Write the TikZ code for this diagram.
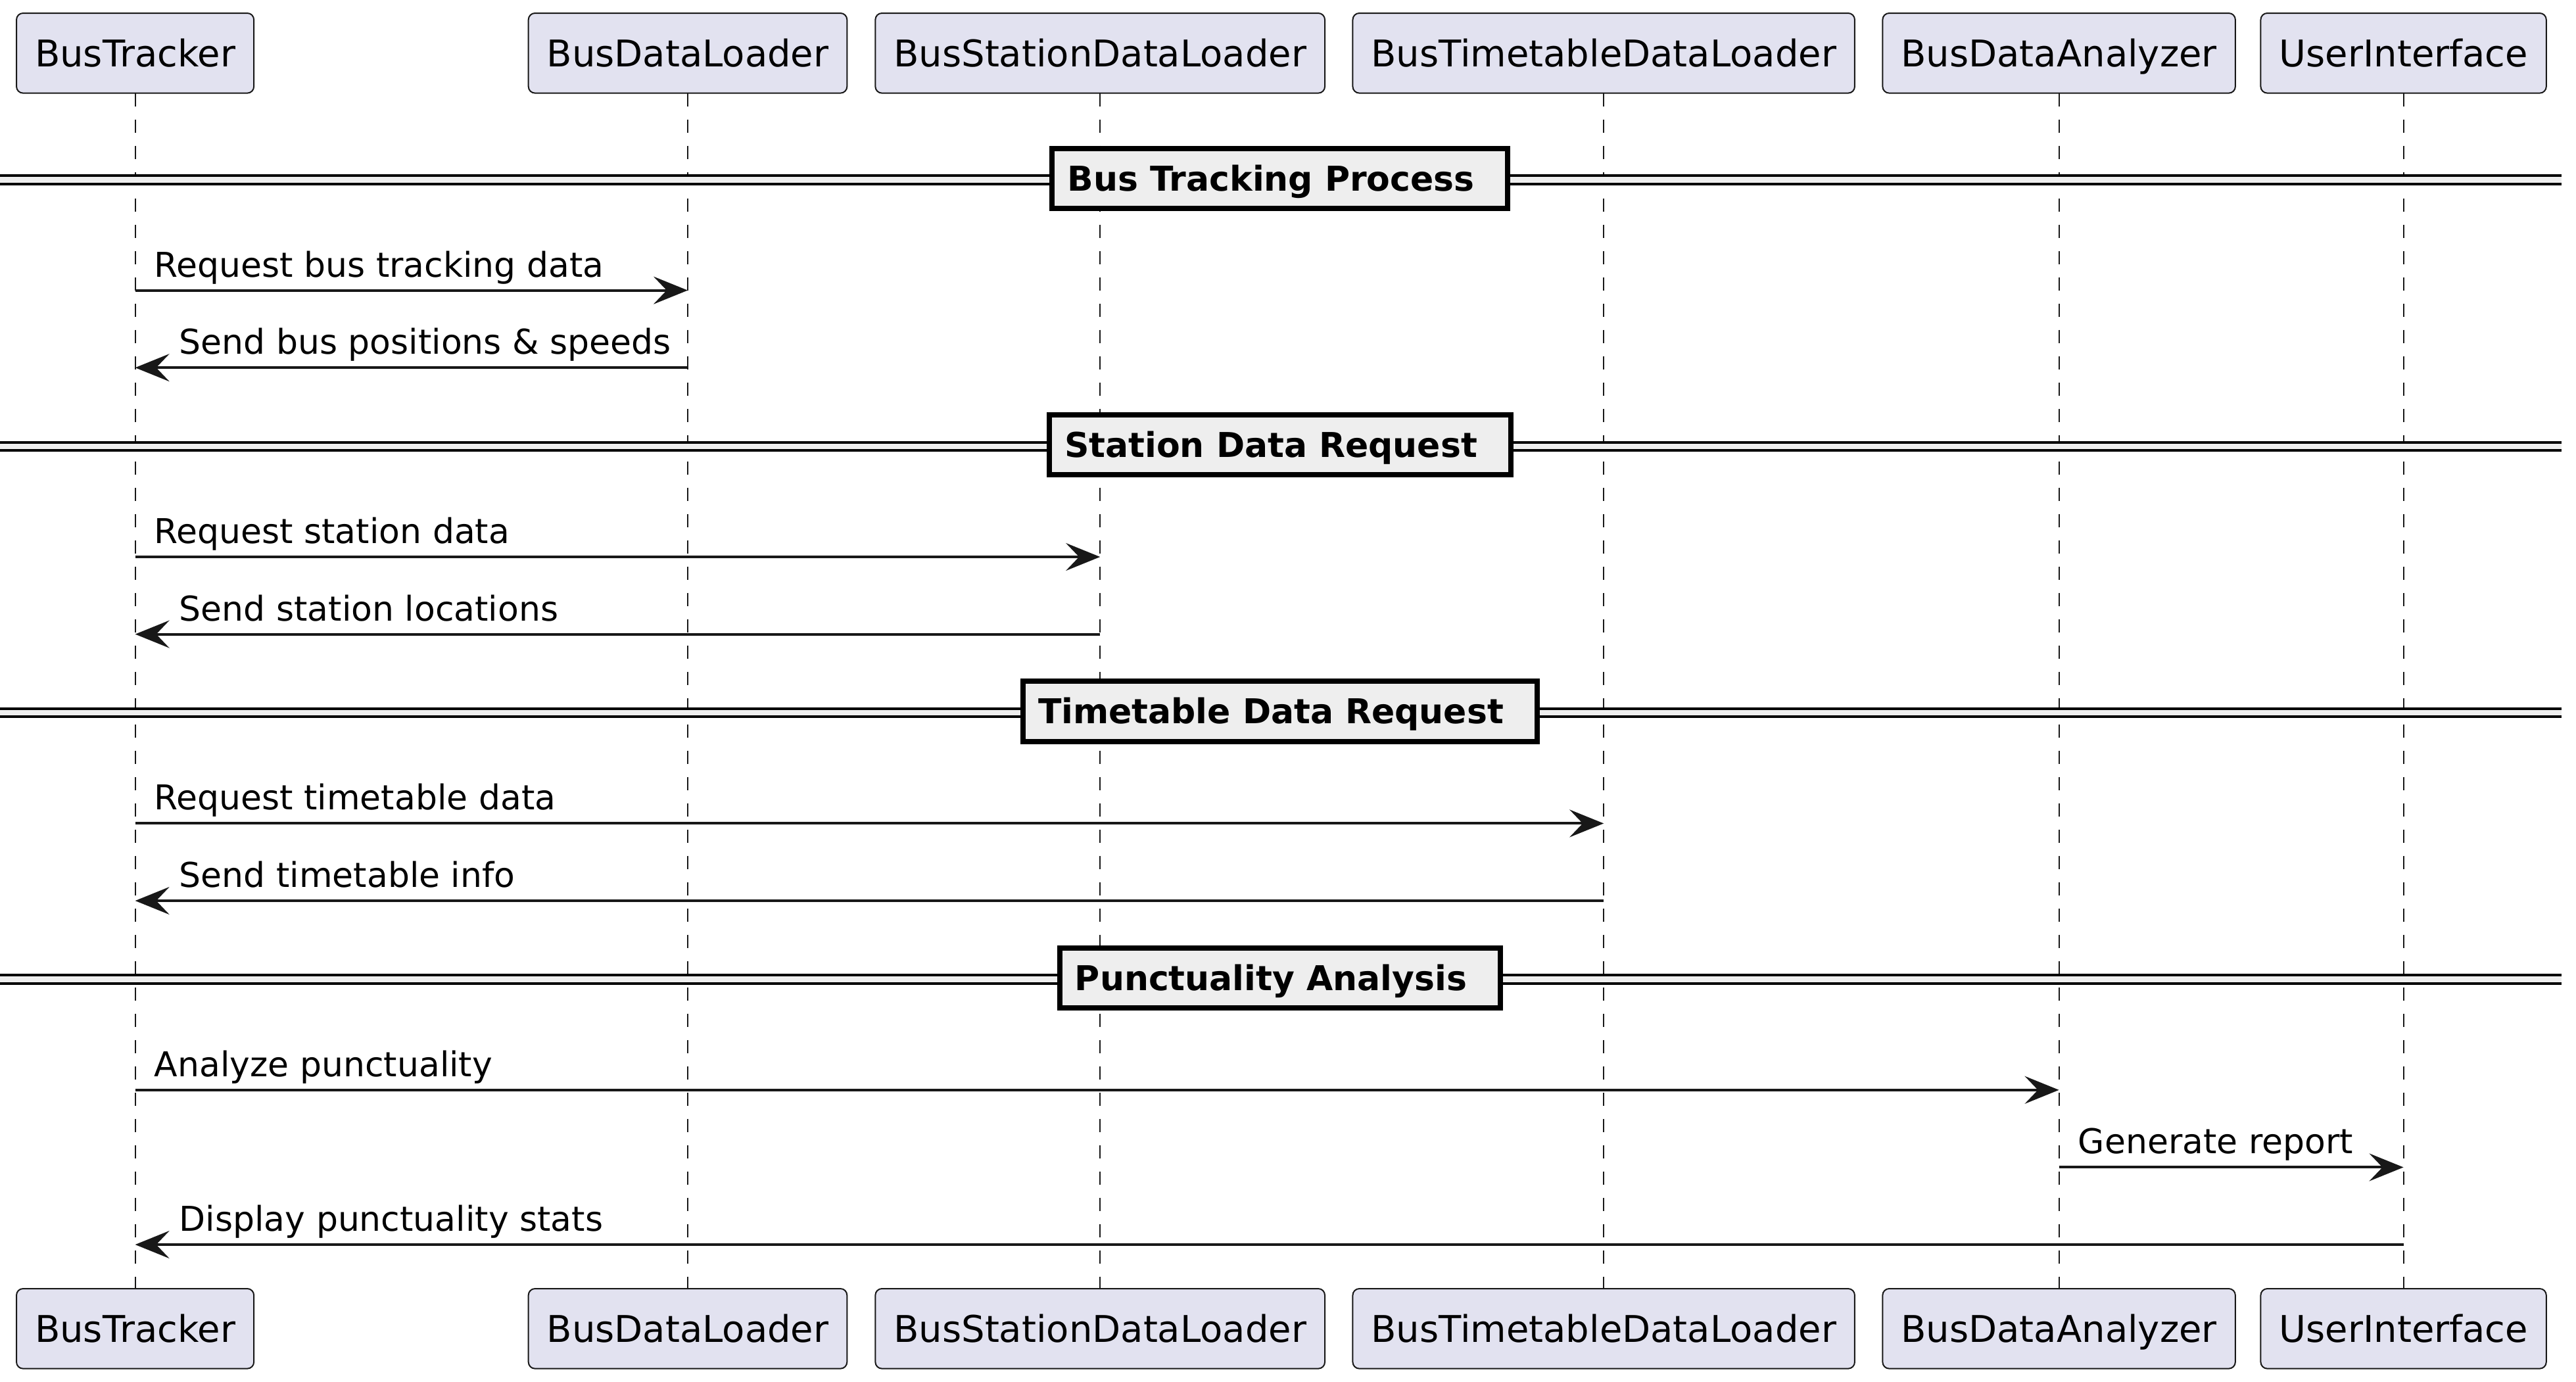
\documentclass[tikz,border=0pt]{standalone}
\usepackage{fontspec}
\setmainfont{DejaVu Sans}
\usetikzlibrary{arrows.meta}
\definecolor{partfill}{HTML}{E2E2F0}
\definecolor{linec}{HTML}{181818}
\definecolor{divfill}{HTML}{EEEEEE}
\tikzset{
  part/.style={draw=linec, line width=0.5pt, fill=partfill, rounded corners=2.5pt,
    inner xsep=7pt, inner ysep=10.1pt, text height=10.2pt, text depth=0pt,
    font=\fontsize{14pt}{16pt}\selectfont, outer sep=0pt},
  lifeline/.style={draw=linec, line width=0.5pt, dash pattern=on 5pt off 5pt},
  msg/.style={draw=linec, line width=1pt,
    -{Stealth[length=13pt,width=10.5pt,inset=5pt]}},
  msglabel/.style={font=\fontsize{13pt}{15pt}\selectfont, inner sep=0pt,
    anchor=base west, text=black},
  divbox/.style={draw=black, line width=2pt, fill=divfill, inner xsep=0pt,
    inner ysep=0pt, minimum height=22.85pt, text height=9.48pt, text depth=0pt,
    font=\fontsize{13pt}{15pt}\selectfont\bfseries},
  divline/.style={draw=black, line width=1pt},
}
\begin{document}
\begin{tikzpicture}[x=1pt, y=-1pt]
\useasboundingbox (0,0) rectangle (979.5,525.25);

% participants (top)
\node[part] (BT)   at (51.4,20.2)  {BusTracker};
\node[part] (BDL)  at (261.5,20.2) {BusDataLoader};
\node[part] (BSDL) at (418.3,20.2) {BusStationDataLoader};
\node[part] (BTDL) at (609.8,20.2) {BusTimetableDataLoader};
\node[part] (BDA)  at (782.9,20.2) {BusDataAnalyzer};
\node[part] (UI)   at (913.9,20.2) {UserInterface};
% participants (bottom)
\node[part] (BTb)   at (51.4,505.2)  {BusTracker};
\node[part] (BDLb)  at (261.5,505.2) {BusDataLoader};
\node[part] (BSDLb) at (418.3,505.2) {BusStationDataLoader};
\node[part] (BTDLb) at (609.8,505.2) {BusTimetableDataLoader};
\node[part] (BDAb)  at (782.9,505.2) {BusDataAnalyzer};
\node[part] (UIb)   at (913.9,505.2) {UserInterface};

% lifelines
\draw[lifeline] (BT.south) -- (BTb.north);
\draw[lifeline] (BDL.south) -- (BDLb.north);
\draw[lifeline] (BSDL.south) -- (BSDLb.north);
\draw[lifeline] (BTDL.south) -- (BTDLb.north);
\draw[lifeline] (BDA.south) -- (BDAb.north);
\draw[lifeline] (UI.south) -- (UIb.north);

% dividers
\foreach \k/\txt/\nm in {0/Bus Tracking Process/d1, 1/Station Data Request/d2,
                         2/Timetable Data Request/d3, 3/Punctuality Analysis/d4}{
  \pgfmathsetmacro{\ya}{66.8+101.35*\k}
  \pgfmathsetmacro{\yb}{69.9+101.35*\k}
  \pgfmathsetmacro{\yc}{67.8+101.35*\k}
  \fill[divfill] (0,\ya) rectangle (974,\yb);
  \draw[divline] (0,\ya) -- (974,\ya);
  \draw[divline] (0,\yb) -- (974,\yb);
  \node[divbox] (\nm) at (486.7,\yc) {\kern5.8pt\txt\kern12.7pt\null};
}

% message rows
\coordinate (r1) at (0,110.4);
\coordinate (r2) at (0,139.8);
\coordinate (r3) at (0,211.75);
\coordinate (r4) at (0,241.15);
\coordinate (r5) at (0,313.1);
\coordinate (r6) at (0,342.5);
\coordinate (r7) at (0,414.45);
\coordinate (r8) at (0,443.85);
\coordinate (r9) at (0,473.25);

% messages
\draw[msg] (BT |- r1) -- node[msglabel, pos=0, xshift=6.8pt, yshift=5.15pt] (m1) {Request bus tracking data} (BDL |- r1);
\draw[msg] (BDL |- r2) -- node[msglabel, pos=1, xshift=16.3pt, yshift=5.15pt] (m2) {Send bus positions \& speeds} (BT |- r2);
\draw[msg] (BT |- r3) -- node[msglabel, pos=0, xshift=6.8pt, yshift=5.15pt] (m3) {Request station data} (BSDL |- r3);
\draw[msg] (BSDL |- r4) -- node[msglabel, pos=1, xshift=16.3pt, yshift=5.15pt] (m4) {Send station locations} (BT |- r4);
\draw[msg] (BT |- r5) -- node[msglabel, pos=0, xshift=6.8pt, yshift=5.15pt] (m5) {Request timetable data} (BTDL |- r5);
\draw[msg] (BTDL |- r6) -- node[msglabel, pos=1, xshift=16.3pt, yshift=5.15pt] (m6) {Send timetable info} (BT |- r6);
\draw[msg] (BT |- r7) -- node[msglabel, pos=0, xshift=6.8pt, yshift=5.15pt] (m7) {Analyze punctuality} (BDA |- r7);
\draw[msg] (BDA |- r8) -- node[msglabel, pos=0, xshift=6.8pt, yshift=5.15pt] (m8) {Generate report} (UI |- r8);
\draw[msg] (UI |- r9) -- node[msglabel, pos=1, xshift=16.3pt, yshift=5.15pt] (m9) {Display punctuality stats} (BT |- r9);
\end{tikzpicture}
\end{document}
